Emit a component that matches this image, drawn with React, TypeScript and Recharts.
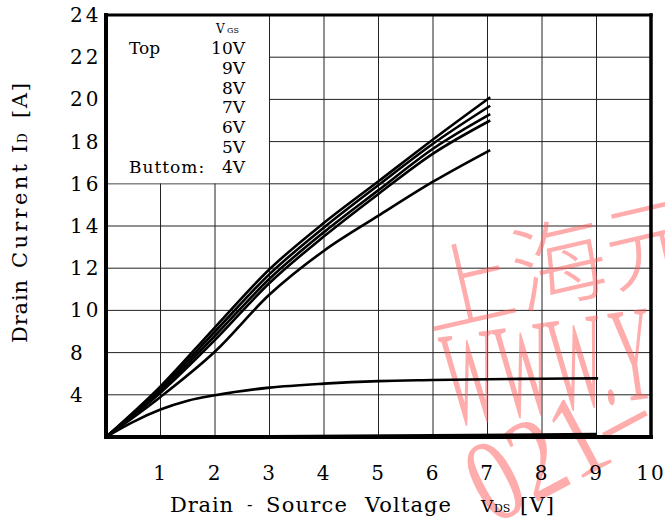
import React from 'react';
import {
  LineChart,
  Line,
  XAxis,
  YAxis,
  CartesianGrid,
  ReferenceArea,
  ReferenceLine,
  Customized,
} from 'recharts';

// ---- data (Drain-Source voltage [V] vs Drain current, axis units) ----
const vdsSteep = [0, 1, 2, 3, 4, 5, 6, 7.05];
const id10V = [4, 6.4, 9.2, 11.95, 14.15, 16.12, 18.1, 20.1];
const id9V = [4, 6.3, 9.0, 11.72, 13.93, 15.94, 17.9, 19.7];
const id8V = [4, 6.2, 8.8, 11.5, 13.71, 15.7, 17.66, 19.3];
const id7V = [4, 6.1, 8.6, 11.3, 13.51, 15.52, 17.43, 19.0];
const id6V = [4, 5.9, 8.05, 10.75, 12.83, 14.49, 16.1, 17.6];
const vds5V = [0, 0.5, 1, 1.5, 2, 3, 4, 5, 6, 7, 8, 9.03];
const id5V = [4, 4.72, 5.3, 5.72, 5.98, 6.34, 6.53, 6.65, 6.7, 6.74, 6.76, 6.78];
const vds4V = [0, 3, 6, 9];
const id4V = [4, 4.03, 4.08, 4.14];

const xTicks = [1, 2, 3, 4, 5, 6, 7, 8, 9, 10];
const yTicks = [6, 8, 10, 12, 14, 16, 18, 20, 22, 24];
const yTickLabels = ['4', '8', '10', '12', '14', '16', '18', '20', '22', '24'];
const legendVgs = ['10V', '9V', '8V', '7V', '6V', '5V', '4V'];

const toPoints = (xs: number[], ys: number[]) => xs.map((x, i) => ({ vds: x, id: ys[i] }));

const series = [
  { name: '10V', data: toPoints(vdsSteep, id10V) },
  { name: '9V', data: toPoints(vdsSteep, id9V) },
  { name: '8V', data: toPoints(vdsSteep, id8V) },
  { name: '7V', data: toPoints(vdsSteep, id7V) },
  { name: '6V', data: toPoints(vdsSteep, id6V) },
  { name: '5V', data: toPoints(vds5V, id5V) },
  { name: '4V', data: toPoints(vds4V, id4V) },
];

const FONT = 'DejaVu Serif';

const XTick = (props: any) => {
  const { x, y, payload } = props;
  return (
    <text x={x} y={y + 43} textAnchor="middle" fontFamily={FONT} fontSize={20} fill="#000" letterSpacing={2}>
      {payload.value}
    </text>
  );
};

const YTick = (props: any) => {
  const { y, payload } = props;
  const idx = yTicks.indexOf(payload.value);
  return (
    <text x={70} y={y + 7} textAnchor="start" fontFamily={FONT} fontSize={20} fill="#000" letterSpacing={3}>
      {yTickLabels[idx]}
    </text>
  );
};

const XTitle = () => (
  <g fontFamily={FONT} fontSize={21} fill="#000">
    <text x={170} y={512} textLength={63}>Drain</text>
    <text x={247} y={510} fontSize={16}>-</text>
    <text x={266} y={512} textLength={81}>Source</text>
    <text x={365} y={512} textLength={86}>Voltage</text>
    <text x={481} y={512} fontSize={17}>V</text>
    <text x={494} y={512} fontSize={11}>DS</text>
    <text x={520} y={512} textLength={34}>[V]</text>
  </g>
);

const YTitle = () => (
  <g fontFamily={FONT} fontSize={21} fill="#000" transform="translate(27,343) rotate(-90)">
    <text x={0} y={0} textLength={63}>Drain</text>
    <text x={75} y={0} textLength={104}>Current</text>
    <text x={190} y={0}>I</text>
    <text x={200} y={0} fontSize={12}>D</text>
    <text x={225} y={0} textLength={35}>[A]</text>
  </g>
);

const LegendContent = () => (
  <g fontFamily={FONT} fill="#000">
    <text x={216} y={33} fontSize={12}>V</text>
    <text x={227} y={33} fontSize={8}>GS</text>
    <text x={129} y={54} fontSize={17}>Top</text>
    {legendVgs.map((v, i) => (
      <text key={v} x={245} y={54 + i * 19.8} fontSize={17} textAnchor="end">
        {v}
      </text>
    ))}
    <text x={129} y={173} fontSize={17} letterSpacing={1}>Buttom:</text>
  </g>
);

const Watermark = () => (
  <g fill="#ff5a5a" fillOpacity={0.5}>
    <text
      transform="translate(428,330) rotate(-13)"
      fontFamily="Noto Sans CJK SC"
      fontWeight={300}
      fontSize={95}
    >
      上海元
    </text>
    <text transform="translate(450,426) rotate(-8) scale(0.42,1)" fontFamily="Liberation Serif" fontSize={136}>
      WWW.Y
    </text>
    <text transform="translate(492,526) rotate(-28) scale(0.8,1)" fontFamily="Liberation Serif" fontSize={118}>
      021–
    </text>
  </g>
);

export default function App() {
  return (
    <div style={{ position: 'fixed', left: 0, top: 0, width: 665, height: 521, background: '#fff' }}>
      <LineChart width={665} height={521} margin={{ top: 15, right: 14, bottom: 54, left: 46 }}>
        <CartesianGrid stroke="#222" strokeWidth={1} />
        <XAxis
          type="number"
          dataKey="vds"
          domain={[0, 10]}
          ticks={xTicks}
          interval={0}
          allowDataOverflow
          axisLine={false}
          tickLine={false}
          tickSize={0}
          tickMargin={0}
          height={30}
          tick={XTick}
          label={XTitle}
        />
        <YAxis
          type="number"
          dataKey="id"
          domain={[4, 24]}
          ticks={yTicks}
          interval={0}
          allowDataOverflow
          axisLine={false}
          tickLine={false}
          tickSize={0}
          tickMargin={0}
          width={60}
          tick={YTick}
          label={YTitle}
        />
        <ReferenceArea
          x1={0}
          x2={2.99}
          y1={16.03}
          y2={24}
          fill="#fff"
          fillOpacity={1}
          stroke="none"
          label={LegendContent}
        />
        {series.map((s) => (
          <Line
            key={s.name}
            name={s.name}
            data={s.data}
            dataKey="id"
            type="monotone"
            stroke="#000"
            strokeWidth={2.6}
            dot={false}
            activeDot={false}
            isAnimationActive={false}
          />
        ))}
        <ReferenceLine x={0} stroke="#000" strokeWidth={4} strokeLinecap="square" />
        <ReferenceLine x={10} stroke="#000" strokeWidth={3.5} strokeLinecap="square" />
        <ReferenceLine y={4} stroke="#000" strokeWidth={4} strokeLinecap="square" />
        <ReferenceLine y={24} stroke="#000" strokeWidth={3} strokeLinecap="square" />
        <Customized component={Watermark} />
      </LineChart>
    </div>
  );
}
